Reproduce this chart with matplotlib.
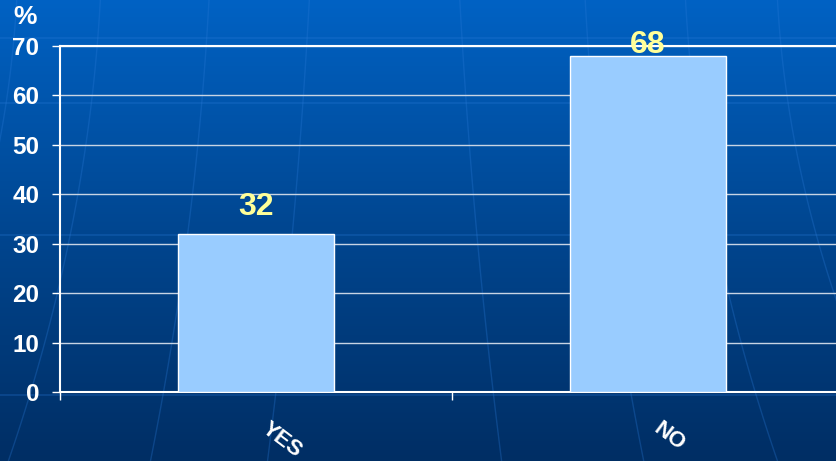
import numpy as np
import matplotlib
matplotlib.use("Agg")
import matplotlib.pyplot as plt
from matplotlib.colors import LinearSegmentedColormap

categories = ["YES", "NO"]
values = [32, 68]
yticks = [0, 10, 20, 30, 40, 50, 60, 70]
unit_label = "%"

plt.rcParams['font.family'] = ['Liberation Sans', 'DejaVu Sans']

W, H = 836, 461
fig = plt.figure(figsize=(W / 100, H / 100), dpi=100)

# background gradient
bg = fig.add_axes([0, 0, 1, 1], zorder=-2)
cmap = LinearSegmentedColormap.from_list("bg", ["#002E64", "#004690", "#0062C4"])
grad = np.linspace(0, 1, 256).reshape(-1, 1)
bg.imshow(grad, aspect='auto', cmap=cmap, origin='lower', extent=[0, 1, 0, 1])
# faint decorative globe lines
for yy in [0.918, 0.776, 0.49, 0.144]:
    bg.axhline(yy, color="#2a7ad8", lw=1.2, alpha=0.3)
t = np.linspace(0, 1, 100)
for x0, bend in [(0.02, -0.06), (0.12, -0.04), (0.25, -0.02), (0.37, -0.01), (0.55, 0.01),
                 (0.70, 0.02), (0.82, 0.04), (0.93, 0.06)]:
    bg.plot(x0 + bend * (1 - t) ** 2 * 2 + 0.03 * (1 - t) * np.sign(bend), t,
            color="#2a7ad8", lw=1.0, alpha=0.3)
bg.set_xlim(0, 1)
bg.set_ylim(0, 1)
bg.axis('off')

left = 60 / W
bottom = (H - 392) / H
width = 784 / W
height = (392 - 46) / H
ax = fig.add_axes([left, bottom, width, height])
ax.patch.set_alpha(0)

x = np.arange(len(categories)) + 0.5
ax.bar(x, values, width=0.4, color="#99CCFF", edgecolor="white", linewidth=1, zorder=3)

ax.set_xlim(0, len(categories))
ax.set_ylim(0, 70)
ax.set_yticks(yticks)
ax.set_yticklabels([str(v) for v in yticks], fontsize=17.5, fontweight='bold', color='white')
ax.yaxis.grid(True, color="#C8D4E4", lw=1, zorder=1)
ax.set_axisbelow(True)
ax.tick_params(axis='y', length=6, width=1, color='white', pad=9)
ax.set_xticks(np.arange(len(categories) + 1))
ax.set_xticklabels([])
ax.tick_params(axis='x', length=6, width=1, color='white')

for s in ['left', 'bottom', 'top']:
    ax.spines[s].set_color('white')
    ax.spines[s].set_linewidth(1.5)
ax.spines['right'].set_visible(False)

for xi, lab in zip(x, categories):
    ax.annotate(lab, xy=(xi, 0), xycoords=('data', 'axes fraction'),
                xytext=(10, -19), textcoords='offset points',
                rotation=-37, rotation_mode='anchor', ha='left', va='top',
                fontsize=16, fontweight='bold', color='white')

for xi, v in zip(x, values):
    ax.text(xi, min(v + 2.4, 67.2), str(v), ha='center', va='bottom',
            fontsize=23, fontweight='bold', color='#FFFF99', zorder=4)

fig.text(25.5 / W, 1 - 17.5 / H, unit_label, ha='center', va='center',
         fontsize=19, fontweight='bold', color='white')

fig.savefig("out.png", dpi=100)
